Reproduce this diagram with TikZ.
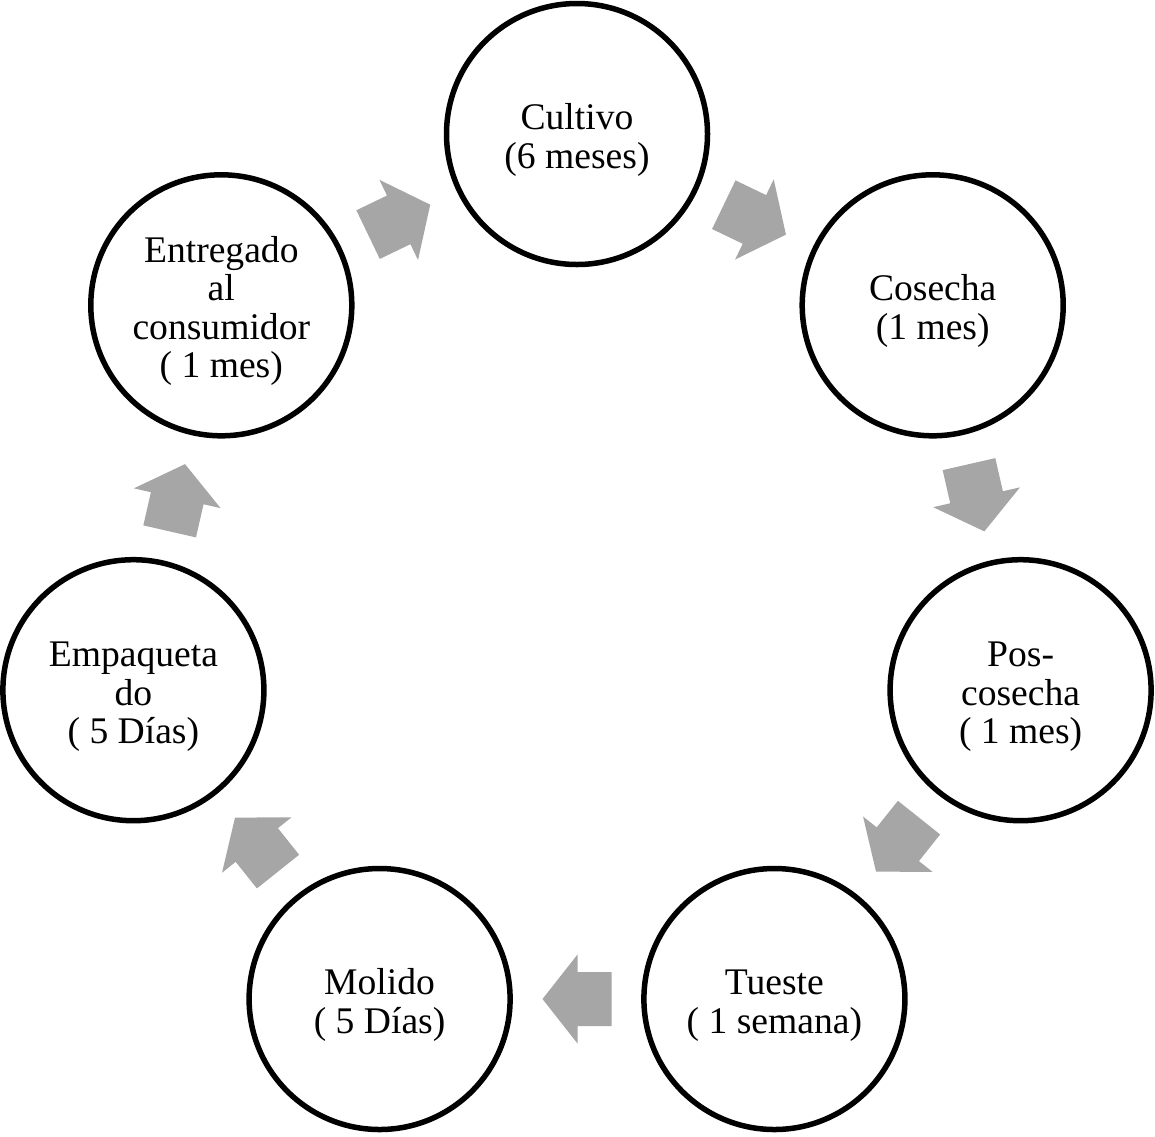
\documentclass[tikz,border=0pt]{standalone}
\usepackage{fontspec}
\setmainfont{Liberation Serif}
\usetikzlibrary{calc}
\definecolor{arrowgray}{HTML}{A6A6A6}
% extra room above the first line, so the text sits a little low
\newcommand{\stagetop}{\rule{0pt}{18.8pt}}
% block arrow halfway between two stages, pointing from #1 to #2
\newcommand{\cyclearrow}[2]{%
  \fill[arrowgray] let \p1=(#1), \p2=(#2), \p3=($(#1)!0.5!(#2)$),
    \n1={atan2(\y2-\y1,\x2-\x1)} in
    [shift={(\p3)}, rotate=\n1]
    (34.5,0) -- (-0.5,44.5) -- (-0.5,27) -- (-34.5,27)
    -- (-34.5,-27) -- (-0.5,-27) -- (-0.5,-44.5) -- cycle;
}
\begin{document}
\begin{tikzpicture}[x=0.5pt, y=-0.5pt,
    stage/.style={circle, draw, line width=2.75pt, minimum size=130.5pt,
      inner sep=0pt, align=center, font=\fontsize{18.8}{19.2}\selectfont}]
  \useasboundingbox (0,0) rectangle (1155,1136);

  \node[stage] (cul) at (577, 134)     {\stagetop Cultivo\\(6 meses)};
  \node[stage] (cos) at (932.7, 305.3) {\stagetop Cosecha\\(1 mes)};
  \node[stage] (pos) at (1020.6, 690.2) {\stagetop Pos-\\cosecha\\( 1 mes)};
  \node[stage] (tue) at (774.4, 999)   {\stagetop Tueste\\( 1 semana)};
  \node[stage] (mol) at (379.6, 999)   {\stagetop Molido\\( 5 Días)};
  \node[stage] (emp) at (133.4, 690.2) {\stagetop Empaqueta\\do\\( 5 Días)};
  \node[stage] (ent) at (221.3, 305.3) {\stagetop Entregado\\al\\consumidor\\( 1 mes)};

  \foreach \a/\b in {cul/cos, cos/pos, pos/tue, tue/mol, mol/emp, emp/ent, ent/cul}
    \cyclearrow{\a}{\b};
\end{tikzpicture}
\end{document}
